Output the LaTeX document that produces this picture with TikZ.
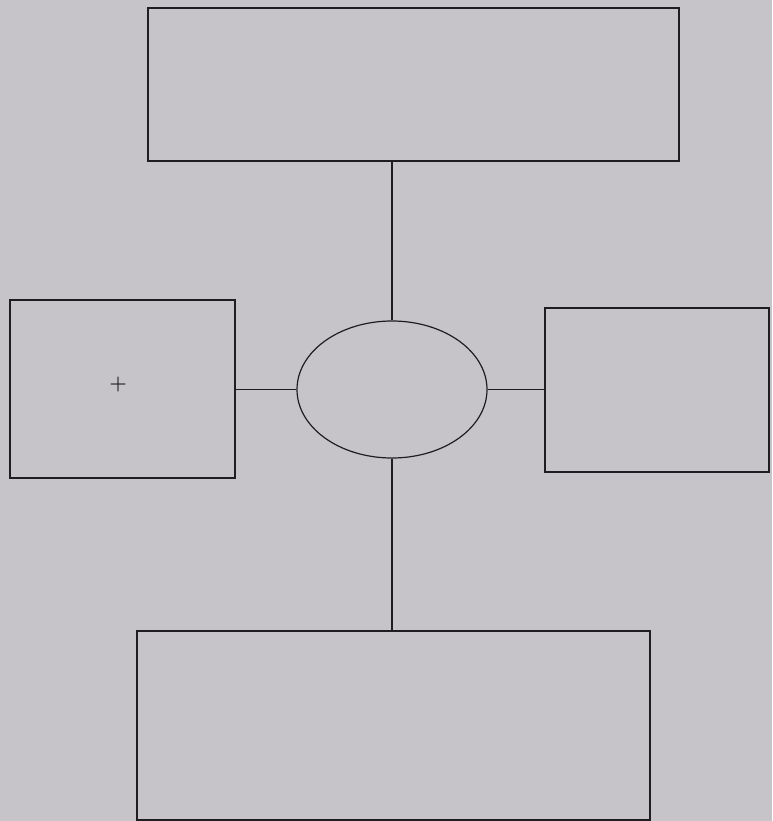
\documentclass[tikz,border=0pt]{standalone}
\usetikzlibrary{shapes.geometric}
\definecolor{paper}{RGB}{198,196,200}
\definecolor{ink}{RGB}{30,30,32}
\begin{document}
\begin{tikzpicture}[x=1pt,y=-1pt,
  box/.style={draw=ink,line width=1.2pt,rectangle,inner sep=0pt},
  oval/.style={draw=ink,line width=1.2pt,ellipse,inner sep=0pt,minimum width=190pt,minimum height=137pt},
  link/.style={draw=ink,line width=1.1pt}]
\fill[paper] (0,0) rectangle (772,821);
\useasboundingbox (0,0) rectangle (772,821);
\node[box,minimum width=531pt,minimum height=153pt] (top) at (413.5,84.5) {};
\node[box,minimum width=225pt,minimum height=178pt] (left) at (122.5,389) {};
\node[box,minimum width=224pt,minimum height=164pt] (right) at (657,390) {};
\node[box,minimum width=513pt,minimum height=189pt] (bottom) at (393.5,725.5) {};
\node[oval] (c) at (392,389.5) {};
\node[inner sep=0pt,text=ink,font=\fontsize{20}{20}\selectfont\bfseries] (plus) at (118,385) {+};
\draw[link] (c.north) -- (c.north |- top.south);
\draw[link] (c.south) -- (c.south |- bottom.north);
\draw[link] (c.west) -- (c.west -| left.east);
\draw[link] (c.east) -- (c.east -| right.west);
\end{tikzpicture}
\end{document}
